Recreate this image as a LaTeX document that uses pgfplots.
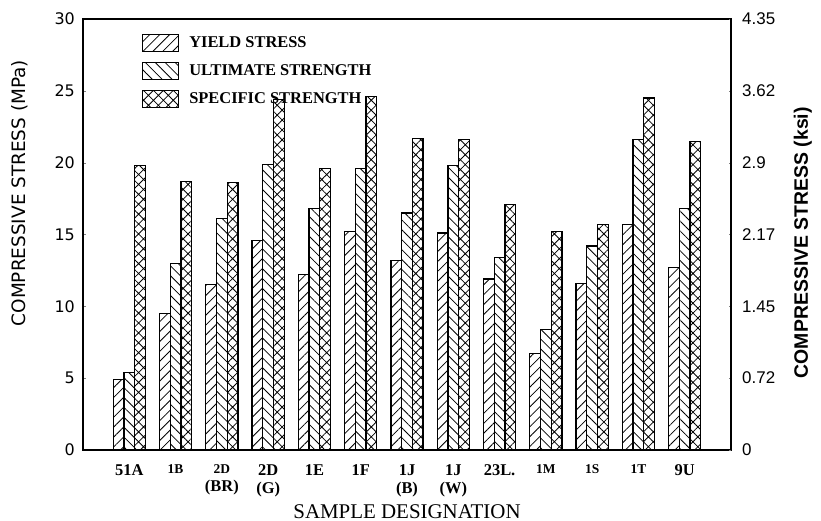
\documentclass[border=0pt]{standalone}
\usepackage{fontspec}
\setmainfont{Liberation Serif}
\newfontfamily\dvs{DejaVu Sans}
\newfontfamily\lsans{Liberation Sans}
\usepackage{pgfplots}
\pgfplotsset{compat=1.18}
\usetikzlibrary{patterns,patterns.meta}
\newcommand\sm{\fontsize{13.5}{18.5}\selectfont}
\pgfplotsset{
 mylegend/.style={legend image code/.code={\draw[##1,line width=1.1bp] (0bp,-8.5bp) rectangle (36bp,8.5bp);}},
}
\begin{document}
\begin{tikzpicture}
\path[use as bounding box] (-83bp,-71bp) rectangle (738bp,450bp);
\begin{axis}[
 at={(0,0)}, anchor=south west,
 scale only axis, width=648bp, height=431bp,
 xmin=-1, xmax=13, ymin=0, ymax=30,
 ybar=0pt, bar width=10.7bp,
 axis line style={line width=1.1bp},
 xtick={0,...,12}, xtick style={draw=none}, xtick pos=bottom,
 xticklabels={51A,{\sm 1B},{\sm 2D\\(BR)},{2D\\(G)},1E,1F,{1J\\(B)},{1J\\(W)},23L.,{\sm 1M},{\sm 1S},{\sm 1T},9U},
 xticklabel style={font=\bfseries\fontsize{16.5}{18.5}\selectfont, align=center, anchor=north, inner sep=0pt, yshift=-11bp},
 ytick={0,5,...,30}, ytick pos=left, major tick length=3bp,
 /pgf/number format/assume math mode=true,
 yticklabel style={font=\dvs\fontsize{16}{16}\selectfont, anchor=east, inner sep=0pt, xshift=-8bp},
 xlabel={SAMPLE DESIGNATION},
 xlabel style={at={(axis description cs:0.5,0)}, anchor=north, inner sep=0pt, yshift=-54bp, font=\fontsize{21}{21}\selectfont},
 ylabel={COMPRESSIVE STRESS (MPa)},
 ylabel style={at={(axis description cs:-0.0972,0.596)}, anchor=center, inner sep=0pt, font=\dvs\fontsize{18.5}{18.5}\selectfont},
 legend style={at={(axis description cs:0.091,0.966)}, anchor=north west, draw=none, fill=none, inner sep=0pt, row sep=10bp, font=\bfseries\fontsize{16.5}{16.5}\selectfont, /tikz/every odd column/.append style={column sep=8bp}},
 legend cell align=left,
]
\addplot[draw=black, line width=1.2bp, pattern={Lines[angle=45,distance=7bp,line width=0.8bp]}, mylegend] coordinates {
(0,4.9) (1,9.5) (2,11.5) (3,14.6) (4,12.2) (5,15.2) (6,13.2) (7,15.1) (8,11.9) (9,6.7) (10,11.6) (11,15.7) (12,12.7)};
\addlegendentry{YIELD STRESS}
\addplot[draw=black, line width=1.2bp, pattern={Lines[angle=-45,distance=7bp,line width=0.8bp]}, mylegend] coordinates {
(0,5.4) (1,13.0) (2,16.1) (3,19.9) (4,16.8) (5,19.6) (6,16.5) (7,19.8) (8,13.4) (9,8.4) (10,14.2) (11,21.6) (12,16.8)};
\addlegendentry{ULTIMATE STRENGTH}
\addplot[draw=black, line width=1.2bp, pattern={Hatch[angle=45,distance=7bp,line width=0.8bp]}, mylegend] coordinates {
(0,19.8) (1,18.7) (2,18.6) (3,24.4) (4,19.6) (5,24.6) (6,21.7) (7,21.6) (8,17.1) (9,15.2) (10,15.7) (11,24.5) (12,21.5)};
\addlegendentry{SPECIFIC STRENGTH}
\end{axis}
\begin{axis}[
 at={(0,0)}, anchor=south west,
 scale only axis, width=648bp, height=431bp,
 xmin=-1, xmax=13, ymin=0, ymax=30,
 axis x line=none, axis y line*=right,
 axis line style={line width=1.1bp,-},
 ytick={0,5,...,30}, major tick length=2bp,
 yticklabels={0,0.72,1.45,2.17,2.9,3.62,4.35},
 yticklabel style={font=\lsans\fontsize{17}{17}\selectfont, anchor=west, inner sep=0pt, xshift=11bp},
 ylabel={COMPRESSIVE STRESS (ksi)},
 ylabel style={at={(axis description cs:1.111,0.481)}, anchor=center, inner sep=0pt, font=\lsans\bfseries\fontsize{19.5}{19.5}\selectfont},
]
\end{axis}
\end{tikzpicture}
\end{document}
